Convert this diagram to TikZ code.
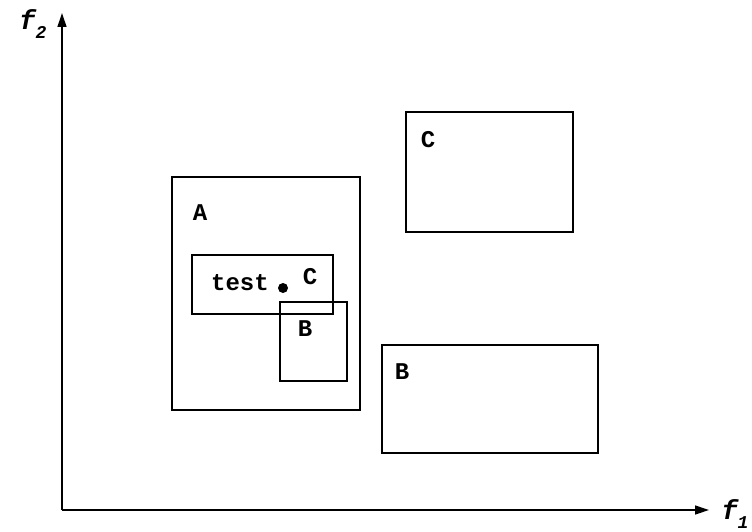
\documentclass[tikz,border=0pt]{standalone}
\usepackage{fontspec}
\setmonofont{Liberation Mono}
\usetikzlibrary{arrows.meta}
\begin{document}
\begin{tikzpicture}[x=1pt,y=-1pt,
  box/.style={draw,line width=1.3pt},
  lab/.style={font=\ttfamily\bfseries\fontsize{24}{24}\selectfont,inner sep=0pt},
  axislab/.style={font=\ttfamily\bfseries\itshape\fontsize{27}{27}\selectfont,inner sep=0pt},
  axis/.style={line width=1.3pt,-{Triangle[length=14pt,width=9pt]}}]
\useasboundingbox (0,0) rectangle (752,532);
\coordinate (O) at (62,510);
\coordinate (Ytop) at (62,13);
\coordinate (Xend) at (709,510);
\draw[axis] (O) -- (Ytop);
\draw[axis] (O) -- (Xend);
\node[axislab] (f2) at (33,24) {f\raisebox{-0.3em}{\fontsize{18}{18}\selectfont 2}};
\node[axislab] (f1) at (735,514) {f\raisebox{-0.3em}{\fontsize{18}{18}\selectfont 1}};
\draw[box] (172,177) rectangle (360,410);
\draw[box] (192,255) rectangle (333,314);
\draw[box] (280,302) rectangle (347,381);
\draw[box] (406,112) rectangle (573,232);
\draw[box] (382,345) rectangle (598,453);
\node[lab] (lA) at (200,213) {A};
\node[lab] (ltest) at (240,283) {test};
\fill (283,288) circle (5pt);
\node[lab] (lC1) at (310,277) {C};
\node[lab] (lB1) at (305,329) {B};
\node[lab] (lC2) at (428,140) {C};
\node[lab] (lB2) at (402,372) {B};
\end{tikzpicture}
\end{document}
